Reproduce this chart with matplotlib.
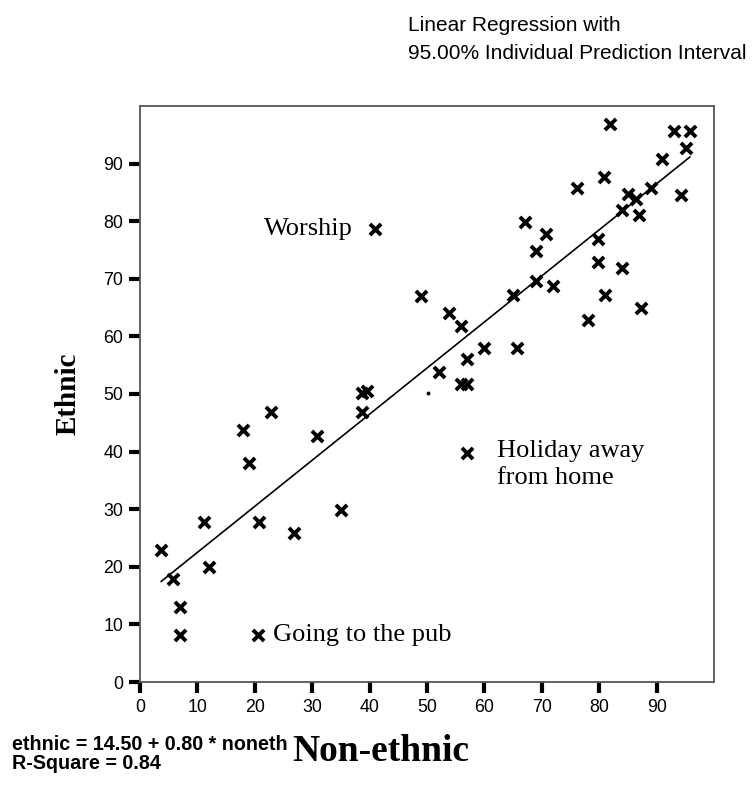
import matplotlib
matplotlib.use("Agg")
import matplotlib.pyplot as plt
import numpy as np

# values
non_ethnic = [3.7, 5.8, 6.9, 6.9, 11.1, 12.1, 18.0, 19.0, 22.8, 20.8, 26.9, 30.8,
              35.0, 38.7, 38.7, 39.6, 20.5, 40.9, 48.9, 52.1, 53.9, 55.9, 55.9,
              57.0, 56.9, 56.9, 60.0, 65.6, 64.9, 67.0, 69.0, 69.0, 70.7, 71.9,
              76.1, 78.1, 79.8, 79.8, 80.9, 81.0, 81.9, 83.9, 83.9, 85.1, 86.4,
              87.0, 87.2, 89.0, 91.0, 93.0, 94.2, 95.2, 95.8]
ethnic = [22.9, 17.9, 13.0, 8.1, 27.8, 19.9, 43.7, 38.0, 46.9, 27.8, 25.8, 42.7,
          29.9, 46.9, 50.1, 50.6, 8.1, 78.6, 67.0, 53.8, 64.0, 61.8, 51.8,
          51.8, 56.0, 39.8, 58.0, 58.0, 67.1, 79.8, 74.9, 69.7, 77.8, 68.8,
          85.7, 62.9, 76.9, 72.9, 87.7, 67.1, 96.9, 81.9, 71.9, 84.7, 83.8,
          81.0, 65.0, 85.7, 90.8, 95.7, 84.6, 92.7, 95.7]
intercept = 14.50
slope = 0.80
r_square = 0.84
ticks = [0, 10, 20, 30, 40, 50, 60, 70, 80, 90]

serif = ["Liberation Serif", "DejaVu Serif"]
sans = ["Liberation Sans", "DejaVu Sans"]

fig = plt.figure(figsize=(7.53, 7.89), dpi=100)
ax = fig.add_axes([0.1859, 0.1356, 0.7623, 0.7301])

ax.scatter(non_ethnic, ethnic, marker="x", s=64, linewidths=2.8, color="black", zorder=3)
ax.plot([50.2], [50.1], "o", ms=1.8, color="black")

xs = np.array([min(non_ethnic), max(non_ethnic)])
ax.plot(xs, intercept + slope * xs, color="black", lw=1.2)

ax.set_xlim(0, 100)
ax.set_ylim(0, 100)
ax.set_xticks(ticks)
ax.set_yticks(ticks)
ax.tick_params(axis="both", direction="out", length=8, width=3, color="black",
               labelsize=12.8, pad=4)
for lab in ax.get_xticklabels() + ax.get_yticklabels():
    lab.set_family(sans)
for sp in ax.spines.values():
    sp.set_color("#555555")
    sp.set_linewidth(1.3)

ax.text(37.1, 78.6, "Worship", family=serif, fontsize=19, ha="right", va="center")
ax.text(23.2, 8.1, "Going to the pub", family=serif, fontsize=19, ha="left", va="center")
ax.text(62.2, 37.8, "Holiday away\nfrom home", family=serif, fontsize=19,
        ha="left", va="center", linespacing=1.3)

ax.set_ylabel("Ethnic", family=serif, fontsize=21, fontweight="bold", labelpad=16)

fig.text(0.505, 0.047, "Non-ethnic", family=serif, fontsize=27, fontweight="bold",
         ha="center", va="center")
fig.text(0.016, 0.057, "ethnic = %.2f + %.2f * noneth" % (intercept, slope),
         family=sans, fontsize=14.2, fontweight="bold", va="center")
fig.text(0.016, 0.032, "R-Square = %.2f" % r_square, family=sans, fontsize=14.2,
         fontweight="bold", va="center")

fig.text(0.5418, 0.9611, "Linear Regression with", family=sans, fontsize=15, va="baseline")
fig.text(0.5418, 0.9252, "95.00% Individual Prediction Interval", family=sans,
         fontsize=15, va="baseline")

fig.savefig("out.png", dpi=100)
